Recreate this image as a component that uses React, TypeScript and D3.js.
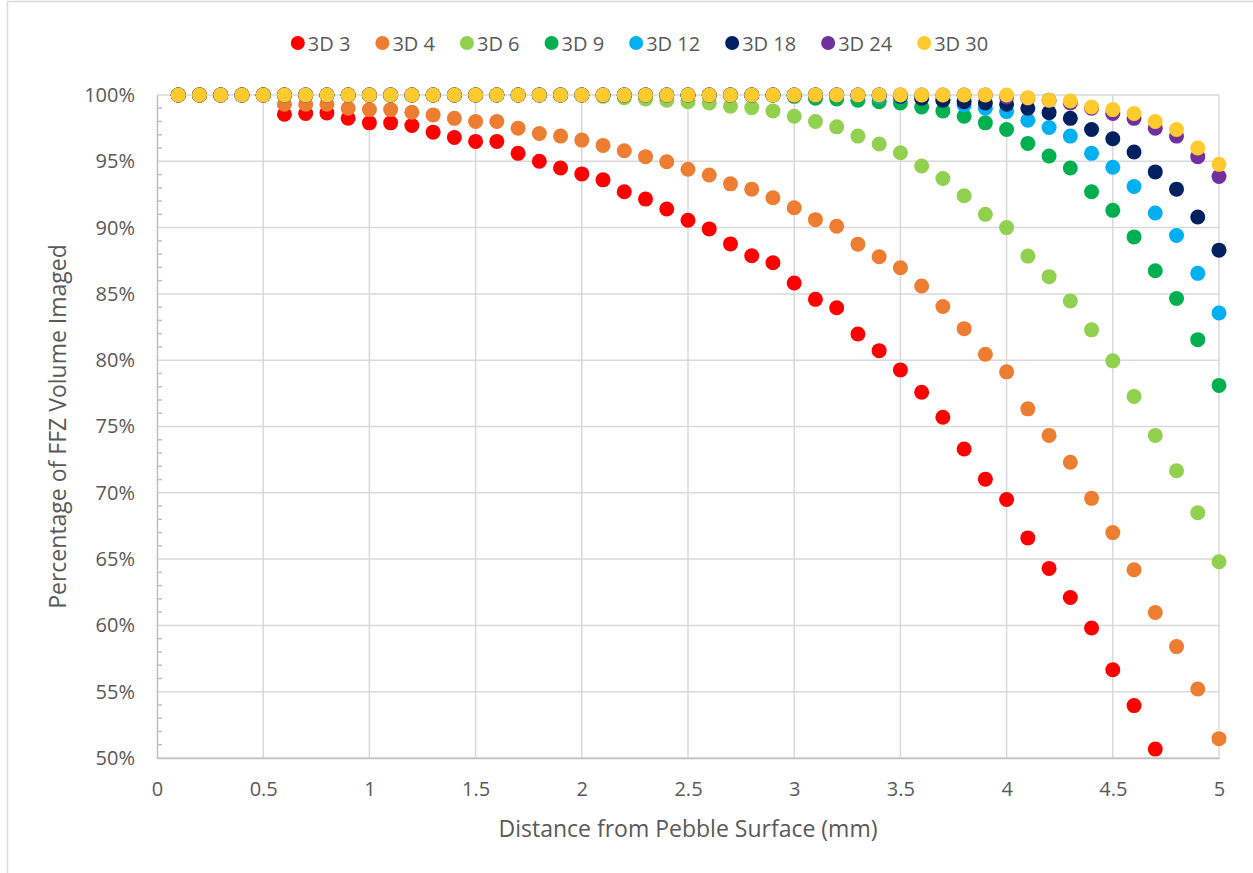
import React, { useEffect, useRef } from 'react';
import * as d3 from 'd3';

// distance from pebble surface (mm)
const distances = [
  0.1, 0.2, 0.3, 0.4, 0.5, 0.6, 0.7, 0.8, 0.9, 1.0,
  1.1, 1.2, 1.3, 1.4, 1.5, 1.6, 1.7, 1.8, 1.9, 2.0,
  2.1, 2.2, 2.3, 2.4, 2.5, 2.6, 2.7, 2.8, 2.9, 3.0,
  3.1, 3.2, 3.3, 3.4, 3.5, 3.6, 3.7, 3.8, 3.9, 4.0,
  4.1, 4.2, 4.3, 4.4, 4.5, 4.6, 4.7, 4.8, 4.9, 5.0,
];

// percentage of FFZ volume imaged, one list per series (null = off the axis)
const s3D3 = [
  100, 100, 100, 100, 100, 98.55, 98.6, 98.65, 98.25, 97.9,
  97.9, 97.7, 97.2, 96.8, 96.5, 96.5, 95.6, 95.0, 94.5, 94.05,
  93.6, 92.7, 92.15, 91.4, 90.55, 89.9, 88.77, 87.88, 87.35, 85.82,
  84.59, 83.96, 81.98, 80.72, 79.27, 77.58, 75.7, 73.3, 71.03, 69.5,
  66.6, 64.3, 62.1, 59.8, 56.66, 53.95, 50.67, null, null, null,
];
const s3D4 = [
  100, 100, 100, 100, 100, 99.3, 99.3, 99.3, 99.0, 98.9,
  98.9, 98.7, 98.5, 98.24, 98.0, 98.0, 97.5, 97.1, 96.9, 96.6,
  96.2, 95.8, 95.35, 94.97, 94.4, 93.97, 93.3, 92.9, 92.25, 91.5,
  90.6, 90.1, 88.75, 87.8, 86.97, 85.6, 84.05, 82.38, 80.45, 79.12,
  76.33, 74.33, 72.3, 69.58, 67.0, 64.2, 60.97, 58.4, 55.2, 51.46,
];
const s3D6 = [
  100, 100, 100, 100, 100, 100, 100, 100, 100, 100,
  100, 100, 100, 100, 100, 100, 100, 100, 100, 100,
  99.9, 99.8, 99.7, 99.6, 99.5, 99.4, 99.15, 99.05, 98.8, 98.4,
  98.0, 97.6, 96.9, 96.3, 95.65, 94.65, 93.7, 92.4, 91.0, 90.0,
  87.85, 86.3, 84.47, 82.29, 79.95, 77.27, 74.33, 71.66, 68.5, 64.8,
];
const s3D9 = [
  100, 100, 100, 100, 100, 100, 100, 100, 100, 100,
  100, 100, 100, 100, 100, 100, 100, 100, 100, 100,
  100, 100, 100, 100, 100, 100, 100, 100, 100, 99.9,
  99.75, 99.7, 99.6, 99.5, 99.4, 99.1, 98.8, 98.4, 97.9, 97.4,
  96.35, 95.4, 94.5, 92.7, 91.3, 89.3, 86.75, 84.65, 81.55, 78.1,
];
const s3D12 = [
  100, 100, 100, 100, 100, 100, 100, 100, 100, 100,
  100, 100, 100, 100, 100, 100, 100, 100, 100, 100,
  100, 100, 100, 100, 100, 100, 100, 100, 100, 100,
  100, 100, 99.95, 99.9, 99.85, 99.8, 99.65, 99.25, 99.0, 98.75,
  98.1, 97.55, 96.9, 95.6, 94.55, 93.1, 91.1, 89.4, 86.55, 83.56,
];
const s3D18 = [
  100, 100, 100, 100, 100, 100, 100, 100, 100, 100,
  100, 100, 100, 100, 100, 100, 100, 100, 100, 100,
  100, 100, 100, 100, 100, 100, 100, 100, 100, 100,
  100, 100, 100, 100, 99.9, 99.75, 99.6, 99.5, 99.4, 99.3,
  99.0, 98.67, 98.24, 97.4, 96.7, 95.7, 94.2, 92.9, 90.8, 88.3,
];
const s3D24 = [
  100, 100, 100, 100, 100, 100, 100, 100, 100, 100,
  100, 100, 100, 100, 100, 100, 100, 100, 100, 100,
  100, 100, 100, 100, 100, 100, 100, 100, 100, 100,
  100, 100, 100, 100, 100, 100, 100, 100, 100, 99.85,
  99.75, 99.6, 99.4, 99.0, 98.6, 98.24, 97.5, 96.9, 95.35, 93.85,
];
const s3D30 = [
  100, 100, 100, 100, 100, 100, 100, 100, 100, 100,
  100, 100, 100, 100, 100, 100, 100, 100, 100, 100,
  100, 100, 100, 100, 100, 100, 100, 100, 100, 100,
  100, 100, 100, 100, 100, 100, 100, 100, 100, 100,
  99.8, 99.6, 99.55, 99.1, 98.9, 98.6, 98.0, 97.4, 96.0, 94.77,
];

const seriesNames = ['3D 3', '3D 4', '3D 6', '3D 9', '3D 12', '3D 18', '3D 24', '3D 30'];
const seriesValues = [s3D3, s3D4, s3D6, s3D9, s3D12, s3D18, s3D24, s3D30];
const seriesColors = ['#ff0000', '#ed7d31', '#92d050', '#00b050', '#00b0f0', '#002060', '#7030a0', '#ffca2e'];

const W = 1253;
const H = 873;
const FONT = '"Open Sans", sans-serif';
const TEXT = '#595959';

export default function App() {
  const ref = useRef<SVGSVGElement>(null);

  useEffect(() => {
    if (!ref.current) return;
    const svg = d3.select(ref.current);
    svg.selectAll('*').remove();

    const x = d3.scaleLinear().domain([0, 5]).range([157, 1219]);
    const y = d3.scaleLinear().domain([50, 100]).range([758, 95]);

    // chart frame
    svg.append('rect')
      .attr('x', 7.5).attr('y', 1.5)
      .attr('width', W + 50).attr('height', H + 50)
      .attr('fill', '#fff').attr('stroke', '#d9d9d9').attr('stroke-width', 1.5);

    // gridlines
    const grid = svg.append('g').attr('stroke', '#d9d9d9').attr('stroke-width', 1.5);
    grid.selectAll('line.h')
      .data(y.ticks(10))
      .join('line')
      .attr('x1', x(0)).attr('x2', x(5))
      .attr('y1', d => y(d)).attr('y2', d => y(d));
    grid.selectAll('line.v')
      .data(x.ticks(10).filter(d => d > 0))
      .join('line')
      .attr('x1', d => x(d)).attr('x2', d => x(d))
      .attr('y1', y(100)).attr('y2', y(50));

    // y axis
    const yAxis = d3.axisLeft(y)
      .tickValues(y.ticks(10))
      .tickFormat(d => `${d}%`)
      .tickSize(0)
      .tickPadding(22);
    const gy = svg.append('g').attr('transform', `translate(${x(0)},0)`).call(yAxis);
    gy.select('.domain').attr('stroke', '#bfbfbf').attr('stroke-width', 1.5);
    gy.selectAll('text').attr('font-family', FONT).attr('font-size', 20).attr('fill', TEXT);

    // minor ticks, inside
    svg.append('g')
      .selectAll('line')
      .data(d3.range(51, 100, 1).filter(d => d % 5 !== 0))
      .join('line')
      .attr('x1', x(0)).attr('x2', x(0) + 5)
      .attr('y1', d => y(d)).attr('y2', d => y(d))
      .attr('stroke', '#bfbfbf').attr('stroke-width', 1.5);

    // x axis
    const xAxis = d3.axisBottom(x)
      .tickValues(x.ticks(10))
      .tickFormat(d3.format('~g'))
      .tickSize(0)
      .tickPadding(24);
    const gx = svg.append('g').attr('transform', `translate(0,${y(50)})`).call(xAxis);
    gx.select('.domain').attr('stroke', '#bfbfbf').attr('stroke-width', 1.5);
    gx.selectAll('text').attr('font-family', FONT).attr('font-size', 20).attr('fill', TEXT);

    // axis titles
    svg.append('text')
      .attr('x', (x(0) + x(5)) / 2).attr('y', 837)
      .attr('text-anchor', 'middle')
      .attr('font-family', FONT).attr('font-size', 23).attr('fill', TEXT)
      .text('Distance from Pebble Surface (mm)');
    svg.append('text')
      .attr('transform', `translate(66,${(y(50) + y(100)) / 2}) rotate(-90)`)
      .attr('text-anchor', 'middle')
      .attr('font-family', FONT).attr('font-size', 23).attr('fill', TEXT)
      .text('Percentage of FFZ Volume Imaged');

    // points
    const plot = svg.append('g');
    seriesValues.forEach((vals, i) => {
      const pts = distances
        .map((d, j) => ({ d, v: vals[j] }))
        .filter(p => p.v !== null && (p.v as number) >= 50);
      plot.append('g')
        .selectAll('circle')
        .data(pts)
        .join('circle')
        .attr('cx', p => x(p.d))
        .attr('cy', p => y(p.v as number))
        .attr('r', 7.5)
        .attr('fill', seriesColors[i]);
    });

    // legend
    const legend = svg.append('g');
    const items = seriesNames.map((name, i) => {
      const g = legend.append('g');
      g.append('circle').attr('r', 7).attr('cy', 43).attr('fill', seriesColors[i]);
      const t = g.append('text')
        .attr('x', 10).attr('y', 51)
        .attr('font-family', FONT).attr('font-size', 20).attr('fill', TEXT)
        .text(name);
      return { g, w: (t.node() as SVGTextElement).getComputedTextLength() };
    });
    const gap = 32;
    const total = d3.sum(items, it => it.w) + 10 * items.length + gap * (items.length - 1);
    let cx = 636 - total / 2 + 7;
    items.forEach(it => {
      it.g.attr('transform', `translate(${cx},0)`);
      cx += 10 + it.w + gap;
    });
  }, []);

  return (
    <svg
      ref={ref}
      width={W}
      height={H}
      style={{ position: 'absolute', left: 0, top: 0, background: '#fff' }}
    />
  );
}
